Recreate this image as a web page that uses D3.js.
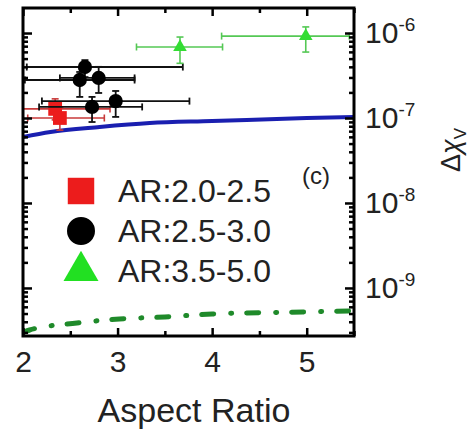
<!DOCTYPE html>
<html>
<head>
<meta charset="utf-8">
<script src="https://cdn.jsdelivr.net/npm/d3@7"></script>
<style>
  body { margin: 0; background: #fff; }
  text { font-family: "Liberation Sans", Arial, sans-serif; fill: #222; }
</style>
</head>
<body>
<div id="chart"></div>
<script>
// aspect ratio vs delta chi_v, three AR groups + two model curves
var redAR = [2.34, 2.39];
var redChi = [1.28e-7, 1.0e-7];
var redARlo = [2.0, 2.05], redARhi = [2.92, 2.86];
var redChilo = [9.5e-8, 7.2e-8], redChihi = [1.68e-7, 1.31e-7];

var blackAR = [2.655, 2.60, 2.80, 2.73, 2.98];
var blackChi = [3.98e-7, 2.80e-7, 2.96e-7, 1.35e-7, 1.58e-7];
var blackARlo = [2.04, 2.02, 2.39, 2.17, 2.20], blackARhi = [3.69, 3.18, 3.18, 3.26, 3.76];
var blackChilo = [3.03e-7, 1.77e-7, 1.97e-7, 8.97e-8, 1.03e-7];
var blackChihi = [4.8e-7, 3.48e-7, 4.0e-7, 1.77e-7, 2.08e-7];

var greenAR = [3.66, 4.99];
var greenChi = [6.85e-7, 9.2e-7];
var greenARlo = [3.20, 4.10], greenARhi = [4.11, 5.45];
var greenChilo = [4.4e-7, 5.97e-7], greenChihi = [8.97e-7, 1.18e-6];

var blueAR = [2.0, 2.29, 2.81, 3.34, 4.0, 5.0, 5.5];
var blueChi = [5.97e-8, 6.84e-8, 7.84e-8, 8.73e-8, 9.2e-8, 1.0e-7, 1.03e-7];

var dashAR = [2.0, 2.07, 2.57, 3.02, 3.5, 4.0, 4.96, 5.5];
var dashChi = [3.0e-10, 3.2e-10, 3.87e-10, 4.32e-10, 4.56e-10, 4.94e-10, 5.22e-10, 5.36e-10];

var xMajor = [2, 3, 4, 5];
var xMinor = [2.5, 3.5, 4.5, 5.5];
var yMajor = [1e-9, 1e-8, 1e-7, 1e-6];
var legendLabels = ["AR:2.0-2.5", "AR:2.5-3.0", "AR:3.5-5.0"];

var margin = {left: 23, top: 8};
var width = 331, height = 328;

var svg = d3.select("#chart")
  .append("svg")
  .attr("width", 474)
  .attr("height", 431);
var g = svg.append("g")
  .attr("transform", "translate(" + margin.left + "," + margin.top + ")");

var x = d3.scaleLinear().domain([2, 5.5]).range([0, width]);
var y = d3.scaleLog().domain([2.72e-10, 1.97e-6]).range([height, 0]);

var yMinor = [];
yMajor.concat([1e-10]).forEach(function(d){
  for (var k = 2; k < 10; k++) {
    var v = d * k;
    if (v > y.domain()[0] && v < y.domain()[1]) yMinor.push(v);
  }
});

g.append("clipPath").attr("id", "clip")
  .append("rect").attr("width", width).attr("height", height);
var plot = g.append("g").attr("clip-path", "url(#clip)");

// model curves
var line = d3.line()
  .x(function(d){ return x(d[0]); })
  .y(function(d){ return y(d[1]); })
  .curve(d3.curveMonotoneX);

plot.append("path")
  .datum(d3.zip(blueAR, blueChi))
  .attr("d", line)
  .attr("fill", "none")
  .attr("stroke", "#1a1fb0")
  .attr("stroke-width", 4);

plot.append("path")
  .datum(d3.zip(dashAR, dashChi))
  .attr("d", line)
  .attr("fill", "none")
  .attr("stroke", "#1f8a2a")
  .attr("stroke-width", 5)
  .attr("stroke-linecap", "round")
  .attr("stroke-dasharray", "12,17,1,15");

// error bars + markers
var symbolGenerator = d3.symbol();
function drawGroup(xs, ys, xlo, xhi, ylo, yhi, barColor, barWidth, fill, type, size) {
  var grp = plot.append("g");
  var rows = xs.map(function(d, i){
    return {x: d, y: ys[i], xlo: xlo[i], xhi: xhi[i], ylo: ylo[i], yhi: yhi[i]};
  });
  var cap = 3.5;
  rows.forEach(function(d){
    var e = grp.append("g")
      .attr("stroke", barColor)
      .attr("stroke-width", barWidth);
    e.append("line")
      .attr("x1", x(d.xlo)).attr("x2", x(d.xhi))
      .attr("y1", y(d.y)).attr("y2", y(d.y));
    e.append("line")
      .attr("x1", x(d.xlo)).attr("x2", x(d.xlo))
      .attr("y1", y(d.y) - cap).attr("y2", y(d.y) + cap);
    e.append("line")
      .attr("x1", x(d.xhi)).attr("x2", x(d.xhi))
      .attr("y1", y(d.y) - cap).attr("y2", y(d.y) + cap);
    e.append("line")
      .attr("x1", x(d.x)).attr("x2", x(d.x))
      .attr("y1", y(d.ylo)).attr("y2", y(d.yhi));
    e.append("line")
      .attr("x1", x(d.x) - cap).attr("x2", x(d.x) + cap)
      .attr("y1", y(d.ylo)).attr("y2", y(d.ylo));
    e.append("line")
      .attr("x1", x(d.x) - cap).attr("x2", x(d.x) + cap)
      .attr("y1", y(d.yhi)).attr("y2", y(d.yhi));
  });
  grp.selectAll("path.pt")
    .data(rows).enter()
    .append("path")
    .attr("class", "pt")
    .attr("transform", function(d){
      return "translate(" + x(d.x) + "," + y(d.y) + ")";
    })
    .attr("d", symbolGenerator.type(d3[type]).size(size)())
    .attr("fill", fill);
}

drawGroup(redAR, redChi, redARlo, redARhi, redChilo, redChihi, "#c83a3a", 1.6, "#ec1c1c", "symbolSquare", 190);
drawGroup(blackAR, blackChi, blackARlo, blackARhi, blackChilo, blackChihi, "#111", 1.8, "#000", "symbolCircle", 160);
drawGroup(greenAR, greenChi, greenARlo, greenARhi, greenChilo, greenChihi, "#55c855", 1.6, "#33dd33", "symbolTriangle", 80);

// axes, all ticks pointing inward
function supLabel(sel) {
  sel.selectAll(".tick text").each(function(d){
    var t = d3.select(this);
    var p = Math.round(Math.log10(d));
    t.text(null);
    t.append("tspan").text("10");
    t.append("tspan").attr("dy", "-0.62em").style("font-size", "19px").text(p);
  });
}

g.append("g")
  .attr("transform", "translate(0," + height + ")")
  .call(d3.axisBottom(x).tickValues(xMajor).tickSize(-8).tickPadding(15).tickFormat(d3.format("d")));
g.append("g")
  .attr("transform", "translate(0," + height + ")")
  .call(d3.axisBottom(x).tickValues(xMinor).tickSize(-5).tickFormat(""));
g.append("g")
  .call(d3.axisTop(x).tickValues(xMajor).tickSize(-8).tickFormat(""));
g.append("g")
  .call(d3.axisTop(x).tickValues(xMinor).tickSize(-5).tickFormat(""));

g.append("g")
  .call(d3.axisLeft(y).tickValues(yMajor).tickSize(-9).tickFormat(""));
g.append("g")
  .call(d3.axisLeft(y).tickValues(yMinor).tickSize(-5).tickFormat(""));
var yRight = g.append("g")
  .attr("transform", "translate(" + width + ",0)")
  .call(d3.axisRight(y).tickValues(yMajor).tickSize(-9).tickPadding(11));
yRight.call(supLabel);
g.append("g")
  .attr("transform", "translate(" + width + ",0)")
  .call(d3.axisRight(y).tickValues(yMinor).tickSize(-5).tickFormat(""));

g.selectAll(".domain").remove();
g.selectAll(".tick line").attr("stroke", "#000").attr("stroke-width", 2.5);
g.selectAll(".tick text")
  .style("font-size", "30px")
  .style("font-family", "'Liberation Sans', Arial, sans-serif")
  .attr("fill", "#222");

g.append("rect")
  .attr("width", width)
  .attr("height", height)
  .attr("fill", "none")
  .attr("stroke", "#000")
  .attr("stroke-width", 3);

// titles
svg.append("text")
  .attr("x", 194)
  .attr("y", 422)
  .attr("text-anchor", "middle")
  .style("font-size", "34px")
  .text("Aspect Ratio");

var yt = svg.append("text")
  .attr("transform", "translate(451,150) rotate(-90)")
  .attr("text-anchor", "middle")
  .attr("dy", "0.35em")
  .style("font-size", "27px");
yt.append("tspan").text("\u0394");
yt.append("tspan").style("font-style", "italic").text("\u03c7");
yt.append("tspan").attr("dy", "0.3em").style("font-size", "17px").text("V");

svg.append("text")
  .attr("x", 316)
  .attr("y", 184)
  .attr("text-anchor", "middle")
  .style("font-size", "24px")
  .attr("fill", "#333")
  .text("(c)");

// legend
var legendTypes = ["symbolSquare", "symbolCircle", "symbolTriangle"];
var legendFill = ["#ec1c1c", "#000", "#22e022"];
var legendSize = [700, 615, 530];
var legendY = [191, 231, 271];
var legend = svg.append("g");
legendLabels.forEach(function(lab, i){
  legend.append("path")
    .attr("transform", "translate(81," + legendY[i] + ")")
    .attr("d", symbolGenerator.type(d3[legendTypes[i]]).size(legendSize[i])())
    .attr("fill", legendFill[i]);
  legend.append("text")
    .attr("x", 118)
    .attr("y", legendY[i] + 11)
    .style("font-size", "32px")
    .text(lab);
});
</script>
</body>
</html>
